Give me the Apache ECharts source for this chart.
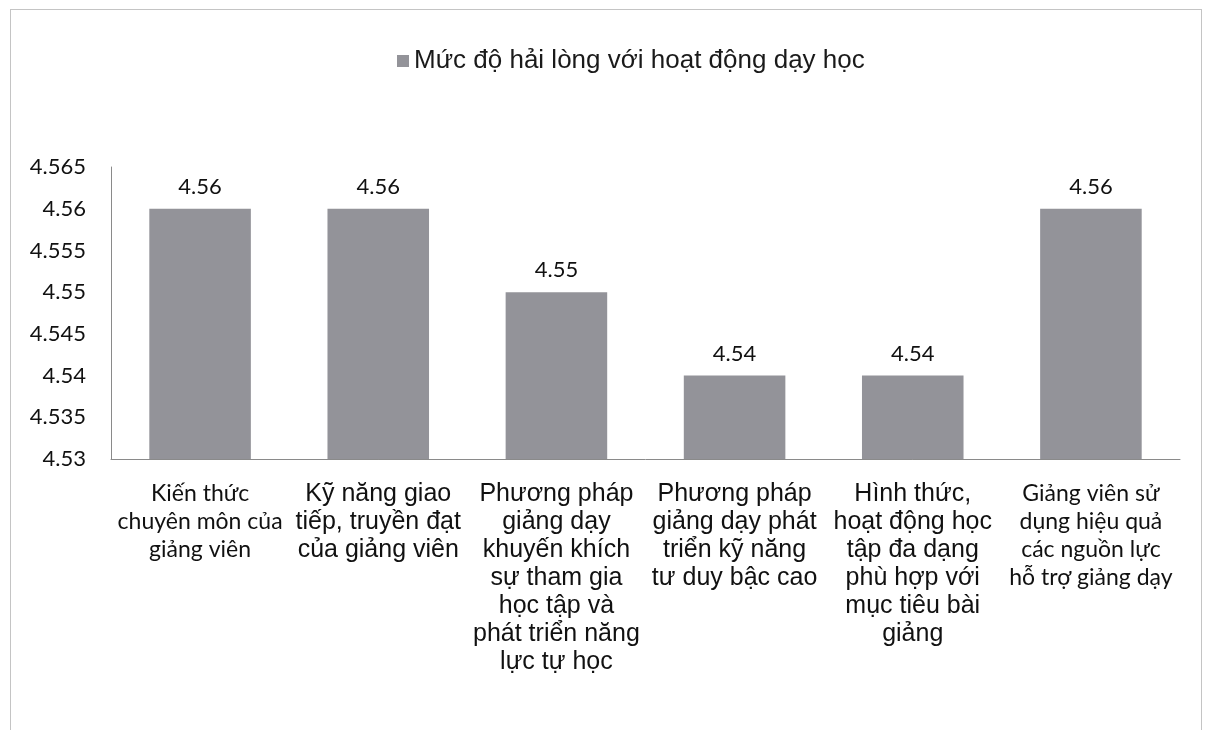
<!DOCTYPE html>
<html>
<head>
	<meta charset="utf-8">
	<title>Mức độ hài lòng</title>
	<style>
		body { margin: 0; background: #fff; }
		#chart1 { width: 1208px; height: 730px; }
		#frame { position: absolute; left: 10px; top: 9px; width: 1190px; height: 740px;
		         border: 1px solid #c4c4c4; pointer-events: none; }
	</style>
</head>
<body>
	<div id="chart1"></div>
	<div id="frame"></div>

	<script src="https://cdn.jsdelivr.net/npm/echarts@6/dist/echarts.min.js"></script>
	<script type="text/javascript">

    var seriesName = 'Mức độ hải lòng với hoạt động dạy học';
    var categories = [
        'Kiến thức\nchuyên môn của\ngiảng viên',
        'Kỹ năng giao\ntiếp, truyền đạt\ncủa giảng viên',
        'Phương pháp\ngiảng dạy\nkhuyến khích\nsự tham gia\nhọc tập và\nphát triển năng\nlực tự học',
        'Phương pháp\ngiảng dạy phát\ntriển kỹ năng\ntư duy bậc cao',
        'Hình thức,\nhoạt động học\ntập đa dạng\nphù hợp với\nmục tiêu bài\ngiảng',
        'Giảng viên sử\ndụng hiệu quả\ncác nguồn lực\nhỗ trợ giảng dạy'
    ];
    // categories set in the narrower (Calibri-like) face in the original
    var narrowFont = [true, false, false, false, false, true];
    var values = [4.56, 4.56, 4.55, 4.54, 4.54, 4.56];

    var yMin = 4.53, yMax = 4.565, yStep = 0.005;

    var dom = document.getElementById('chart1');
    var myChart = echarts.init(dom);

    var option = {
        animation: false,
        legend: {
            data: [seriesName],
            left: 392,
            top: 43,
            icon: 'rect',
            itemWidth: 12,
            itemHeight: 12,
            itemGap: 9,
            textStyle: { fontFamily: 'Liberation Sans', fontSize: 26, color: '#1a1a1a' }
        },
        grid: { left: 111, right: 28, top: 167, bottom: 271 },
        xAxis: {
            type: 'category',
            data: categories,
            axisLine: { lineStyle: { color: '#8a8a8a', width: 1 } },
            axisTick: { show: false },
            axisLabel: {
                interval: 0,
                margin: 21,
                color: '#111',
                align: 'center',
                formatter: function (value, idx) {
                    return '{' + (narrowFont[idx] ? 'c' : 'a') + '|' + value + '}';
                },
                rich: {
                    a: { fontFamily: 'Liberation Sans', fontSize: 25, lineHeight: 28, color: '#111', align: 'center' },
                    c: { fontFamily: 'Lato', fontSize: 23, lineHeight: 28, color: '#111', align: 'center' }
                }
            }
        },
        yAxis: {
            type: 'value',
            min: yMin,
            max: yMax,
            interval: yStep,
            splitLine: { show: false },
            axisLine: { show: true, lineStyle: { color: '#8a8a8a', width: 1 } },
            axisTick: { show: false },
            axisLabel: {
                margin: 25,
                fontFamily: 'Lato',
                fontSize: 22,
                color: '#111'
            }
        },
        series: [
            {
                name: seriesName,
                type: 'bar',
                data: values,
                barWidth: '57%',
                itemStyle: { color: '#939399' },
                label: {
                    show: true,
                    position: 'top',
                    distance: 11,
                    fontFamily: 'Lato',
                    fontSize: 22,
                    color: '#111',
                    formatter: function (p) { return p.value.toFixed(2); }
                }
            }
        ]
    };
    myChart.setOption(option, true);

	</script>
</body>
</html>
